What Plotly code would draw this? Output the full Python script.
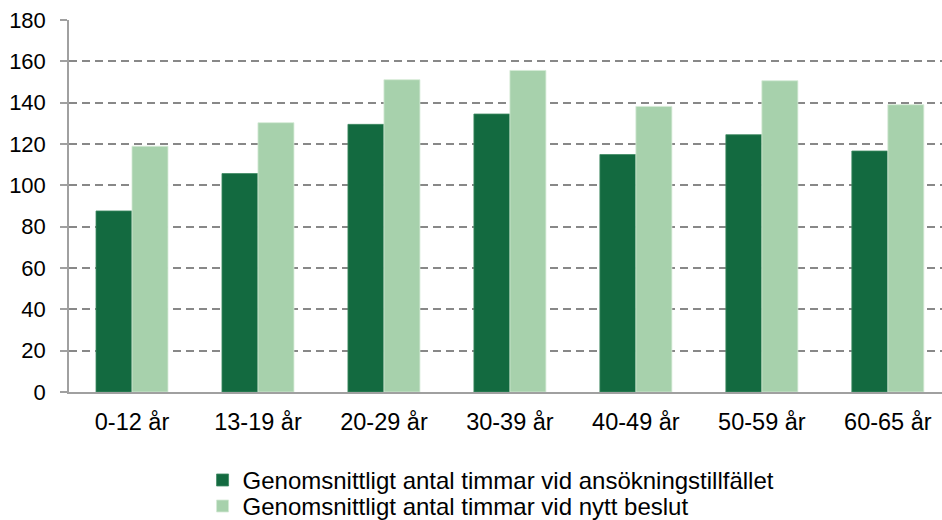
import plotly.graph_objects as go

# Age groups and average hours per group
age_groups = ["0-12 år", "13-19 år", "20-29 år", "30-39 år", "40-49 år", "50-59 år", "60-65 år"]
hours_application = [87.6, 105.7, 129.5, 134.5, 114.9, 124.5, 116.6]
hours_new_decision = [118.9, 130.3, 151.1, 155.6, 138.2, 150.6, 139.0]

series_names = [
    "Genomsnittligt antal timmar vid ansökningstillfället",
    "Genomsnittligt antal timmar vid nytt beslut",
]
y_ticks = [0, 20, 40, 60, 80, 100, 120, 140, 160, 180]

DARK = "#136a40"
LIGHT = "#a7d1ac"
FONT = "Liberation Sans, Arial, sans-serif"

fig = go.Figure()
fig.add_trace(go.Bar(
    x=age_groups, y=hours_application, name=series_names[0], legend="legend",
    marker=dict(color=DARK, line=dict(color="#3f8a62", width=0.8)),
))
fig.add_trace(go.Bar(
    x=age_groups, y=hours_new_decision, name=series_names[1], legend="legend2",
    marker=dict(color=LIGHT, line=dict(color="#d4ead6", width=0.8)),
))

legend_style = dict(
    orientation="v", xanchor="left", yanchor="middle",
    font=dict(family=FONT, size=24, color="#000000"),
    itemwidth=30, tracegroupgap=0, bgcolor="rgba(0,0,0,0)", borderwidth=0,
)

fig.update_layout(
    width=942, height=520,
    margin=dict(l=69, r=0, t=19.5, b=128, autoexpand=False),
    paper_bgcolor="white", plot_bgcolor="white",
    barmode="group", bargap=0.4286, bargroupgap=0,
    font=dict(family=FONT, size=22, color="#000000"),
    showlegend=True,
    legend=dict(x=0.153, y=-0.2376, **legend_style),
    legend2=dict(x=0.153, y=-0.3075, **legend_style),
    xaxis=dict(
        range=[-0.5, 6.43], showgrid=False, ticks="",
        showline=True, linecolor="#a0a0a0", linewidth=1.5,
        tickfont=dict(family=FONT, size=23.5, color="#000000"),
        ticklabelstandoff=8,
    ),
    yaxis=dict(
        range=[0, 180], tickvals=y_ticks, ticktext=[str(v) for v in y_ticks],
        showgrid=True, gridcolor="#888888", gridwidth=2, griddash="8px,5px",
        showline=True, linecolor="#a0a0a0", linewidth=1.5,
        ticks="outside", ticklen=7, tickcolor="#a0a0a0", tickwidth=1.5,
        tickfont=dict(family=FONT, size=22, color="#000000"),
        ticklabelstandoff=10,
        zeroline=False,
    ),
)

fig.write_html("out.html")
